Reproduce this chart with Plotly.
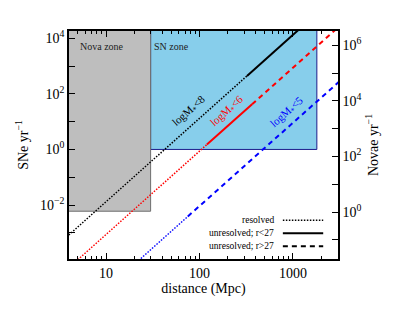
import math
import plotly.graph_objects as go

# ---------------- data ----------------
# zones (distance in Mpc, SNe per yr)
nova_zone_d = [1.0, 30.0]
nova_zone_r = [0.006, 1e5]
sn_zone_d = [30.0, 1800.0]
sn_zone_r = [1.0, 1e5]

# logM*<8 (black)
black_dot_d = [4.0, 322.0]
black_dot_r = [8.4e-4, 440.0]
black_solid_d = [322.0, 1200.0]
black_solid_r = [440.0, 2.3e4]

# logM*<6 (red)
red_dot_d = [4.0, 120.0]
red_dot_r = [5.6e-5, 1.5]
red_solid_d = [120.0, 365.0]
red_solid_r = [1.5, 42.0]
red_dash_d = [365.0, 3100.0]
red_dash_r = [42.0, 2.6e4]

# logM*<5 (blue)
blue_dot_d = [20.0, 75.0]
blue_dot_r = [7.3e-5, 3.9e-3]
blue_dash_d = [75.0, 3100.0]
blue_dash_r = [3.9e-3, 270.0]

# line labels
label_text = ["logM<sub>*</sub>&lt;8", "logM<sub>*</sub>&lt;6", "logM<sub>*</sub>&lt;5"]
label_d = [77.5, 198.0, 869.0]
label_r = [24.5, 24.5, 22.6]
label_color = ["black", "red", "blue"]

# axes
x_tickvals = [10, 100, 1000]
x_ticktext = ["10", "100", "1000"]
y_tickvals = [1e-4, 1e-2, 1, 1e2, 1e4]
y_ticktext = ["10<sup>\u22124</sup>", "10<sup>\u22122</sup>", "10<sup>0</sup>",
              "10<sup>2</sup>", "10<sup>4</sup>"]
y2_tickvals = [1, 1e2, 1e4, 1e6]
y2_ticktext = ["10<sup>0</sup>", "10<sup>2</sup>", "10<sup>4</sup>", "10<sup>6</sup>"]
novae_per_sne = 178.0
legend_labels = ["resolved", "unresolved; r&lt;27", "unresolved; r&gt;27"]

FONT = "Liberation Serif"
DOT = "1.5px,1.5px"
DASH = "5px,4px"

fig = go.Figure()

# SN zone
fig.add_trace(go.Scatter(
    x=[sn_zone_d[0], sn_zone_d[1], sn_zone_d[1], sn_zone_d[0], sn_zone_d[0]],
    y=[sn_zone_r[0], sn_zone_r[0], sn_zone_r[1], sn_zone_r[1], sn_zone_r[0]],
    mode="lines", fill="toself", fillcolor="#87CEEB",
    line=dict(color="#1C1C8C", width=1), hoverinfo="skip", showlegend=False))
# Nova zone
fig.add_trace(go.Scatter(
    x=[nova_zone_d[0], nova_zone_d[1], nova_zone_d[1], nova_zone_d[0], nova_zone_d[0]],
    y=[nova_zone_r[0], nova_zone_r[0], nova_zone_r[1], nova_zone_r[1], nova_zone_r[0]],
    mode="lines", fill="toself", fillcolor="#BEBEBE",
    line=dict(color="#6E6E6E", width=1), hoverinfo="skip", showlegend=False))

def seg(x, y, color, dash, width):
    fig.add_trace(go.Scatter(x=x, y=y, mode="lines",
                             line=dict(color=color, dash=dash, width=width),
                             hoverinfo="skip", showlegend=False))

seg(black_dot_d, black_dot_r, "black", DOT, 1.5)
seg(black_solid_d, black_solid_r, "black", "solid", 2)
seg(red_dot_d, red_dot_r, "red", DOT, 1.5)
seg(red_solid_d, red_solid_r, "red", "solid", 2)
seg(red_dash_d, red_dash_r, "red", DASH, 2)
seg(blue_dot_d, blue_dot_r, "blue", DOT, 1.5)
seg(blue_dash_d, blue_dash_r, "blue", DASH, 2)

# empty trace so that the right-hand (novae) axis is drawn
fig.add_trace(go.Scatter(x=[None], y=[None], yaxis="y2", mode="lines",
                         hoverinfo="skip", showlegend=False))

# layout geometry (page body adds ~8px offset)
W, H = 407, 313
L, T = 61, 23
pw, ph = 269, 228
R, B = W - L - pw, H - T - ph
xr = [math.log10(4.02), math.log10(3030)]
yr = [-3.94, 4.26]
ang = -math.degrees(math.atan(3 * (ph / (yr[1] - yr[0])) / (pw / (xr[1] - xr[0]))))

annotations = []
for t, d, r, c in zip(label_text, label_d, label_r, label_color):
    annotations.append(dict(x=math.log10(d), y=math.log10(r), xref="x", yref="y",
                            text=t, showarrow=False, textangle=ang,
                            font=dict(family=FONT, size=11, color=c)))
annotations.append(dict(x=0.035, y=0.93, xref="paper", yref="paper", text="Nova zone",
                        showarrow=False, xanchor="left", yanchor="middle",
                        font=dict(family=FONT, size=10, color="#222")))
annotations.append(dict(x=0.31, y=0.93, xref="paper", yref="paper", text="SN zone",
                        showarrow=False, xanchor="left", yanchor="middle",
                        font=dict(family=FONT, size=10, color="#222")))

shapes = []
leg_y = [0.17, 0.113, 0.056]
leg_dash = ["dot", "solid", "dash"]
for lab, yy, dd in zip(legend_labels, leg_y, leg_dash):
    annotations.append(dict(x=0.77, y=yy, xref="paper", yref="paper", text=lab,
                            showarrow=False, xanchor="right", yanchor="middle",
                            font=dict(family=FONT, size=9.5, color="black")))
    shapes.append(dict(type="line", xref="paper", yref="paper", x0=0.795, x1=0.945,
                       y0=yy, y1=yy,
                       line=dict(color="black", width=1.5 if dd == "dot" else 2,
                                 dash=DOT if dd == "dot" else (DASH if dd == "dash" else "solid"))))

axfont = dict(family=FONT, size=14, color="black")
fig.update_layout(
    width=W, height=H, margin=dict(l=L, r=R, t=T, b=B, autoexpand=False),
    paper_bgcolor="white", plot_bgcolor="white",
    font=dict(family=FONT, color="black"),
    showlegend=False,
    annotations=annotations, shapes=shapes,
    xaxis=dict(type="log", range=xr, tickmode="array", tickvals=x_tickvals,
               ticktext=x_ticktext, ticks="inside", ticklen=6, tickwidth=1,
               tickcolor="black", showline=True, linecolor="black", linewidth=1.5,
               mirror="ticks", showgrid=False, zeroline=False, tickfont=axfont,
               automargin=False,
               minor=dict(ticks="inside", ticklen=3, tickcolor="black", dtick="D1",
                          showgrid=False),
               title=dict(text="distance (Mpc)", font=axfont, standoff=2)),
    yaxis=dict(type="log", range=yr, tickmode="array", tickvals=y_tickvals,
               ticktext=y_ticktext,
               ticks="inside", ticklen=6, tickcolor="black", showline=True,
               linecolor="black", linewidth=1.5, showgrid=False, zeroline=False,
               tickfont=axfont, automargin=False,
               minor=dict(ticks="inside", ticklen=6, tickcolor="black", dtick=1,
                          showgrid=False),
               title=dict(text="SNe yr<sup>\u22121</sup>", font=axfont, standoff=8)),
    yaxis2=dict(type="log", overlaying="y", side="right",
                range=[yr[0] + math.log10(novae_per_sne), yr[1] + math.log10(novae_per_sne)],
                tickmode="array", tickvals=y2_tickvals, ticktext=y2_ticktext,
                ticks="inside", ticklen=6,
                tickcolor="black", showline=True, linecolor="black", linewidth=1.5,
                showgrid=False, zeroline=False, tickfont=axfont, automargin=False,
                minor=dict(ticks="inside", ticklen=6, tickcolor="black", dtick=1,
                           showgrid=False),
                title=dict(text="Novae yr<sup>\u22121</sup>", font=axfont, standoff=8)),
)

fig.write_html("out.html")
